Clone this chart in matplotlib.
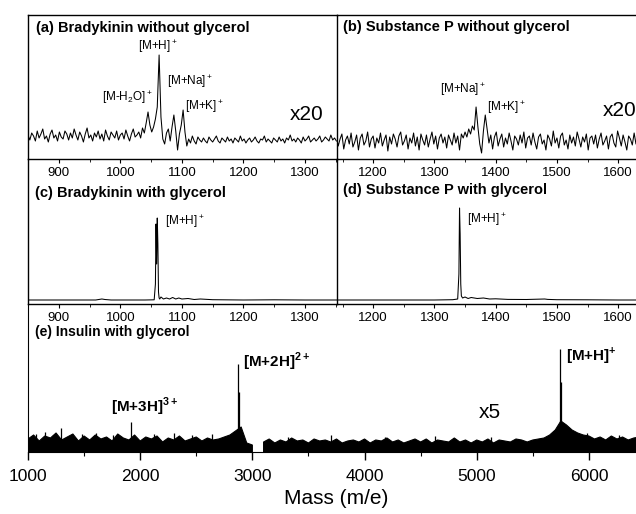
import numpy as np
import matplotlib
matplotlib.use("Agg")
import matplotlib.pyplot as plt
from matplotlib.ticker import MultipleLocator

plt.rcParams['font.family'] = ['Liberation Sans', 'DejaVu Sans']
plt.rcParams['mathtext.fontset'] = 'custom'
plt.rcParams['mathtext.rm'] = 'Liberation Sans'
plt.rcParams['mathtext.bf'] = 'Liberation Sans:bold'

# ---- data (intensity in arbitrary units) ----
# (a) bradykinin without glycerol, sampled every 3 m/e from 850
a_mass = np.arange(850, 1352, 3)
a_int = [2, -3, 4, 1, -4, 6, -1, 3, 8, -2, 1, -5,
         3, 7, -1, 2, -4, 5, 0, -2, 6, 3, -3, 4,
         -1, 8, 2, -3, 5, 1, -5, 3, 9, -1, 2, -4,
         4, 0, 6, -2, 3, -4, 7, 1, -3, 5, 2, -1,
         6, -3, 2, 4, -2, 7, 1, -4, 3, 8, 0, 2,
         5, -1, 9, 4, 14, 25, 12, 5, 10, 18, 30, 82,
         20, -2, -7, 4, 8, -4, 10, 22, 6, -13, 3, 12,
         27, 5, -9, -2, -6, 1, -4, -7, 0, -3, -5, -1,
         -4, -6, 0, -3, -5, -2, 1, -4, -6, -1, -3, -5,
         0, -4, -2, -6, -1, -3, -5, 1, -4, -2, -6, -3,
         -1, -5, -3, 0, -4, -6, -2, -3, 1, -5, -2, -4,
         -6, -1, -3, -5, 0, -4, -2, -6, -1, -3, 2, -4,
         -2, -5, -1, -3, -6, 0, -4, -2, 1, -5, -3, -1,
         -4, -2, 1, -5, -3, 0, -2, -4, 2, -3, -1, -4]

# (b) substance P without glycerol, sampled every 3 m/e from 1140
b_mass = np.arange(1140, 1648, 3)
b_int = [4, -5, 2, 7, -8, 1, 5, -3, 8, -6,
         -1, 6, -9, 3, 7, -4, 0, 9, -6, 2,
         5, -7, 3, -2, 8, -5, 1, 6, -10, 4,
         -3, 7, 2, -6, 5, 9, -4, 0, 6, -8,
         3, -2, 8, -5, 4, -9, 7, 1, -4, 6,
         -6, 2, 9, -3, 5, -8, 3, 7, -2, 4,
         -7, 6, 1, -4, 8, -2, 5, -9, 7, 3,
         9, 4, 12, 7, 15, 11, 34, 14, -3, -12,
         10, 26, 12, -2, 6, -8, 4, 9, -5, 2,
         7, -6, 3, -3, 8, 0, -9, 5, 2, -4,
         6, -2, 9, -7, 3, 5, -4, 8, -1, -8,
         4, 7, -3, 1, -9, 6, 2, -5, 10, -2,
         3, -7, 5, 8, -4, 1, -8, 6, -2, 4,
         -5, 9, 2, -6, 4, -1, 7, -9, 3, 5,
         -3, 6, -7, 2, 8, -4, 0, 5, -8, 4,
         7, -2, -6, 10, 3, -5, 6, -1, -9, 5,
         2, -4, 8, -3, 5, -7, 1, 6, -5, 3]

# (c) bradykinin with glycerol
c_mass = [850, 900, 960, 970, 975, 985, 1000, 1040, 1055, 1057, 1058, 1059,
          1060, 1061, 1062, 1063, 1064, 1066, 1070, 1075, 1080, 1085, 1090,
          1095, 1100, 1110, 1120, 1130, 1150, 1200, 1250, 1300, 1352]
c_int = [4, 4, 4, 5, 4.5, 4, 4, 4, 4.2, 20, 80, 40,
         86, 60, 12, 6, 5, 7, 5, 6, 5, 6.5, 5,
         6, 5, 5.5, 4.5, 5, 4.3, 4, 4.2, 4, 4]

# (d) substance P with glycerol
d_mass = [1140, 1200, 1250, 1300, 1330, 1338, 1340, 1341, 1342, 1343, 1344,
          1346, 1350, 1355, 1360, 1370, 1380, 1390, 1400, 1420, 1450, 1480,
          1485, 1500, 1550, 1600, 1650]
d_int = [4, 4, 4, 4, 4.3, 5, 30, 96, 70, 20, 8,
         6, 7, 5.5, 6.5, 5.5, 6, 5, 5.2, 4.6, 4.5, 5,
         4.6, 4.3, 4.2, 4, 4]

# (e) insulin with glycerol: upper edge of the dense noise band every 50 m/e
e_mass = np.arange(1000, 6501, 50)
e_band = [13, 17, 11, 16, 14, 19, 12, 15, 18, 11,
          16, 12, 17, 13, 15, 11, 18, 14, 12, 17,
          11, 15, 13, 16, 10, 14, 12, 16, 11, 13,
          15, 11, 14, 12, 13, 15, 17, 21, 25, 9,
          7, np.nan, 10, 13, 9, 12, 10, 14, 11, 12,
          9, 13, 11, 12, 10, 13, 9, 11, 12, 10,
          13, 9, 12, 11, 14, 10, 12, 9, 11, 13,
          10, 13, 9, 12, 11, 10, 14, 10, 12, 9,
          12, 10, 13, 9, 12, 11, 10, 13, 12, 10,
          12, 13, 14, 17, 22, 31, 27, 22, 19, 17,
          16, 13, 15, 12, 16, 13, 15, 12, 14, 15,
          13]
# sharp spikes rising out of the band
e_spike_mass = [1075, 1150, 1220, 1290, 1480, 1610, 1760, 1915, 2120, 2300,
                2460, 2640, 2870, 2880, 3320, 3700, 4180, 4630, 5130, 5745,
                5755, 5980, 6270]
e_spike_int = [18, 20, 17, 24, 18, 19, 17, 30, 18, 19,
               17, 18, 88, 60, 15, 17, 15, 16, 15, 103,
               70, 19, 17]

fig = plt.figure(figsize=(6.36, 5.14), dpi=100)
W, H = 636.0, 514.0


def box(x0, y0, x1, y1):
    return [x0 / W, 1 - y1 / H, (x1 - x0) / W, (y1 - y0) / H]


ax_a = fig.add_axes(box(28, 15, 337, 159))
ax_b = fig.add_axes(box(337, 15, 647, 159))
ax_c = fig.add_axes(box(28, 159, 337, 304))
ax_d = fig.add_axes(box(337, 159, 647, 304))
ax_e = fig.add_axes(box(28, 304, 645, 452))
for ax in (ax_a, ax_b, ax_c, ax_d, ax_e):
    ax.set_facecolor('none')

lw = 0.75
ax_a.plot(a_mass, a_int, color='black', lw=lw)
ax_a.set_xlim(850, 1352)
ax_a.set_ylim(-22, 122)

ax_b.plot(b_mass, b_int, color='black', lw=lw)
ax_b.set_xlim(1141, 1647)
ax_b.set_ylim(-18, 126)

ax_c.plot(c_mass, c_int, color='black', lw=lw)
ax_c.set_xlim(850, 1352)
ax_c.set_ylim(0, 145)

ax_d.plot(d_mass, d_int, color='black', lw=lw)
ax_d.set_xlim(1141, 1647)
ax_d.set_ylim(0, 145)

ax_e.fill_between(e_mass, 0, e_band, color='black', lw=0.8,
                  edgecolor='black')
ax_e.vlines(e_spike_mass, 0, e_spike_int, color='black', lw=0.9)
ax_e.set_xlim(1000, 6500)
ax_e.set_ylim(0, 148)

# spines and ticks
for ax in (ax_a, ax_b, ax_c, ax_d):
    ax.set_yticks([])
    ax.xaxis.set_major_locator(MultipleLocator(100))
    ax.xaxis.set_minor_locator(MultipleLocator(50))
    ax.tick_params(axis='x', which='major', direction='out', length=3,
                   width=0.8, labelsize=9.5, pad=3)
    ax.tick_params(axis='x', which='minor', direction='out', length=2,
                   width=0.6)
    for s in ax.spines.values():
        s.set_linewidth(1.0)
ax_a.spines['right'].set_visible(False)
ax_b.spines['right'].set_visible(False)
ax_c.spines['top'].set_visible(False)
ax_c.spines['right'].set_visible(False)
ax_d.spines['top'].set_visible(False)
ax_d.spines['right'].set_visible(False)

ax_e.set_yticks([])
ax_e.spines['top'].set_visible(False)
ax_e.spines['right'].set_visible(False)
ax_e.xaxis.set_major_locator(MultipleLocator(1000))
ax_e.xaxis.set_minor_locator(MultipleLocator(500))
ax_e.tick_params(axis='x', which='major', direction='out', length=6,
                 width=1.0, labelsize=12.5, pad=6)
ax_e.tick_params(axis='x', which='minor', direction='out', length=3,
                 width=0.8)
ax_e.set_xlabel('Mass (m/e)', fontsize=15, labelpad=4)

# panel titles
tkw = dict(fontsize=10.5, fontweight='bold', ha='left', va='center')
ax_a.text(8 / 309, 1 - 13 / 144, '(a) Bradykinin without glycerol',
          transform=ax_a.transAxes, **tkw)
ax_b.text(6 / 310, 1 - 12 / 144, '(b) Substance P without glycerol',
          transform=ax_b.transAxes, **tkw)
ax_c.text(7 / 309, 1 - 34 / 145, '(c) Bradykinin with glycerol',
          transform=ax_c.transAxes, **tkw)
ax_d.text(6 / 310, 1 - 31 / 145, '(d) Substance P with glycerol',
          transform=ax_d.transAxes, **tkw)
ax_e.text(7 / 617, 1 - 28 / 148, '(e) Insulin with glycerol',
          transform=ax_e.transAxes, fontsize=10, fontweight='bold',
          ha='left', va='center')

# peak labels
lkw = dict(fontsize=8.5, ha='left', va='center')
ax_a.text(1029, 90, r'[M+H]$^+$', **lkw)
ax_a.text(1076, 55, r'[M+Na]$^+$', **lkw)
ax_a.text(970, 39, r'[M-H$_2$O]$^+$', **lkw)
ax_a.text(1105, 30, r'[M+K]$^+$', **lkw)
ax_a.text(1302, 22, 'x20', fontsize=15, ha='center', va='center')

ax_b.text(1309, 51, r'[M+Na]$^+$', **lkw)
ax_b.text(1386, 33, r'[M+K]$^+$', **lkw)
ax_b.text(1574, 31, 'x20', fontsize=15, ha='left', va='center')

ax_c.text(1073, 82, r'[M+H]$^+$', **lkw)
ax_d.text(1353, 84, r'[M+H]$^+$', **lkw)

bkw = dict(fontsize=11, fontweight='bold', ha='left', va='center')
ax_e.text(1740, 45, r'[M+3H]$^{\mathbf{3+}}$', **bkw)
ax_e.text(2915, 90, r'[M+2H]$^{\mathbf{2+}}$', **bkw)
ax_e.text(5795, 97, r'[M+H]$^{\mathbf{+}}$', **bkw)
ax_e.text(5020, 39, 'x5', fontsize=15, ha='left', va='center')

fig.savefig('out.png', dpi=100)
